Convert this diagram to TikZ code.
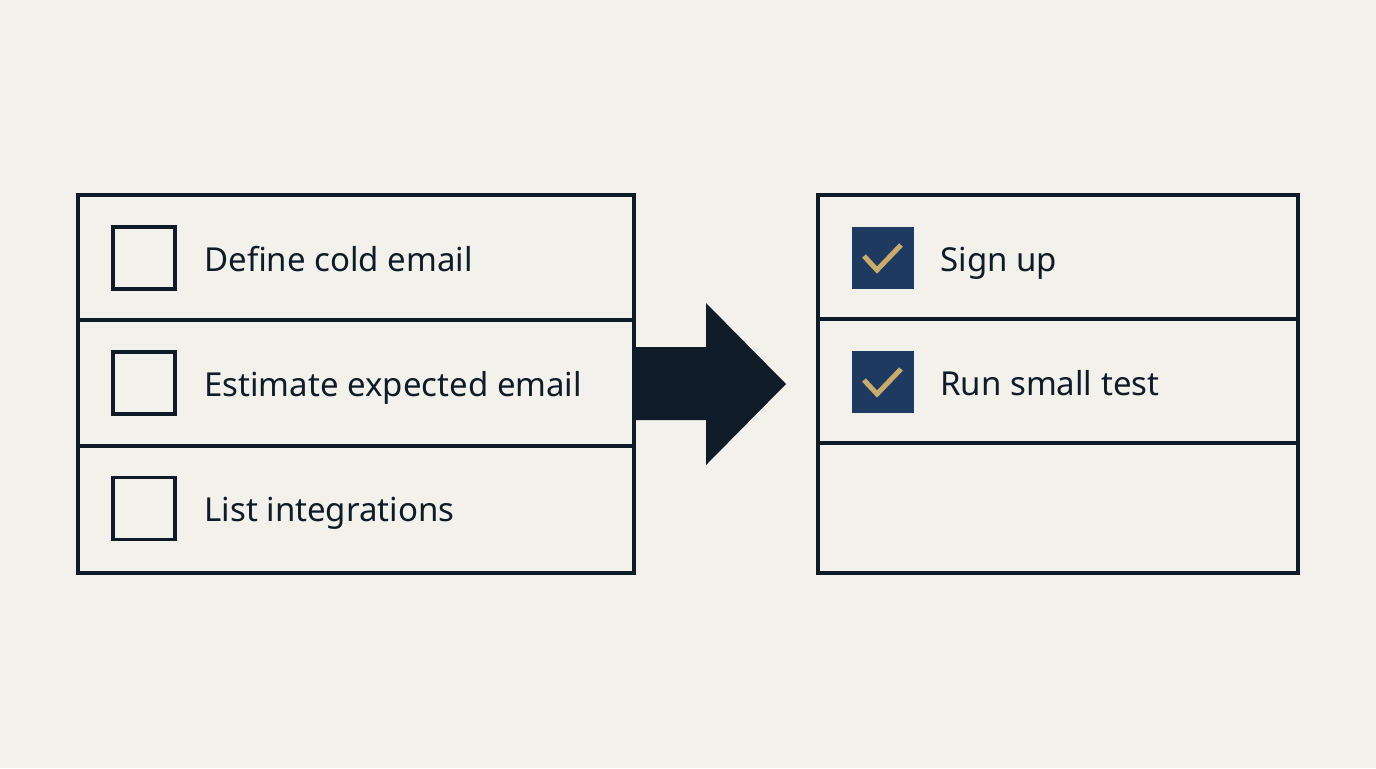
\documentclass[tikz,border=0pt]{standalone}
\usepackage{fontspec}
\setmainfont{Noto Sans}
\usetikzlibrary{calc}
\definecolor{paper}{HTML}{F2F1EC}
\definecolor{ink}{HTML}{0F1B27}
\definecolor{navy}{HTML}{1F3A60}
\definecolor{gold}{HTML}{C9AB6E}
\tikzset{
  row/.style={draw=ink, line width=1.6pt, rectangle, inner sep=0pt},
  openbox/.style={draw=ink, line width=1.6pt, rectangle, minimum size=31pt, inner sep=0pt},
  donebox/.style={fill=navy, rectangle, minimum size=31pt, inner sep=0pt},
  tick/.style={draw=gold, line width=2.5pt},
  itemtext/.style={anchor=base west, text=ink, font=\fontsize{16.5}{20}\selectfont, inner sep=0pt}
}
\begin{document}
\begin{tikzpicture}[x=0.5pt, y=-0.5pt]
				% background
				\fill[paper] (0,0) rectangle (1376,768);
				\useasboundingbox (0,0) rectangle (1376,768);
				
				% left list: still to do
				\node[row, minimum width=278pt, minimum height=62.5pt] (l1) at (356,257.5) {};
				\node[row, minimum width=278pt, minimum height=63pt] (l2) at (356,383) {};
				\node[row, minimum width=278pt, minimum height=63.5pt] (l3) at (356,509.5) {};
				\node[openbox] (c1) at (144,258) {};
				\node[openbox] (c2) at (144,383) {};
				\node[openbox] (c3) at (144,508.5) {};
				\node[itemtext] (t1) at (204,271) {Define cold email};
				\node[itemtext] (t2) at (204,396) {Estimate expected email};
				\node[itemtext] (t3) at (204,521) {List integrations};
				
				% right list: done
				\node[row, minimum width=240pt, minimum height=62pt] (r1) at (1058,257) {};
				\node[row, minimum width=240pt, minimum height=62pt] (r2) at (1058,381) {};
				\node[row, minimum width=240pt, minimum height=65pt] (r3) at (1058,508) {};
				\node[donebox] (d1) at (883,258) {};
				\node[donebox] (d2) at (883,382) {};
				\draw[tick, shift={(d1.center)}] (-19,-2) -- (-6,12) -- (18,-13);
				\draw[tick, shift={(d2.center)}] (-19,-2) -- (-6,12) -- (18,-13);
				\node[itemtext] (u1) at (940,271) {Sign up};
				\node[itemtext] (u2) at (940,395) {Run small test};
				
				% block arrow
				\fill[ink] (634,347) -- (706,347) -- (706,303) -- (786,384)
				  -- (706,465) -- (706,420) -- (634,420) -- cycle;
\end{tikzpicture}
\end{document}
